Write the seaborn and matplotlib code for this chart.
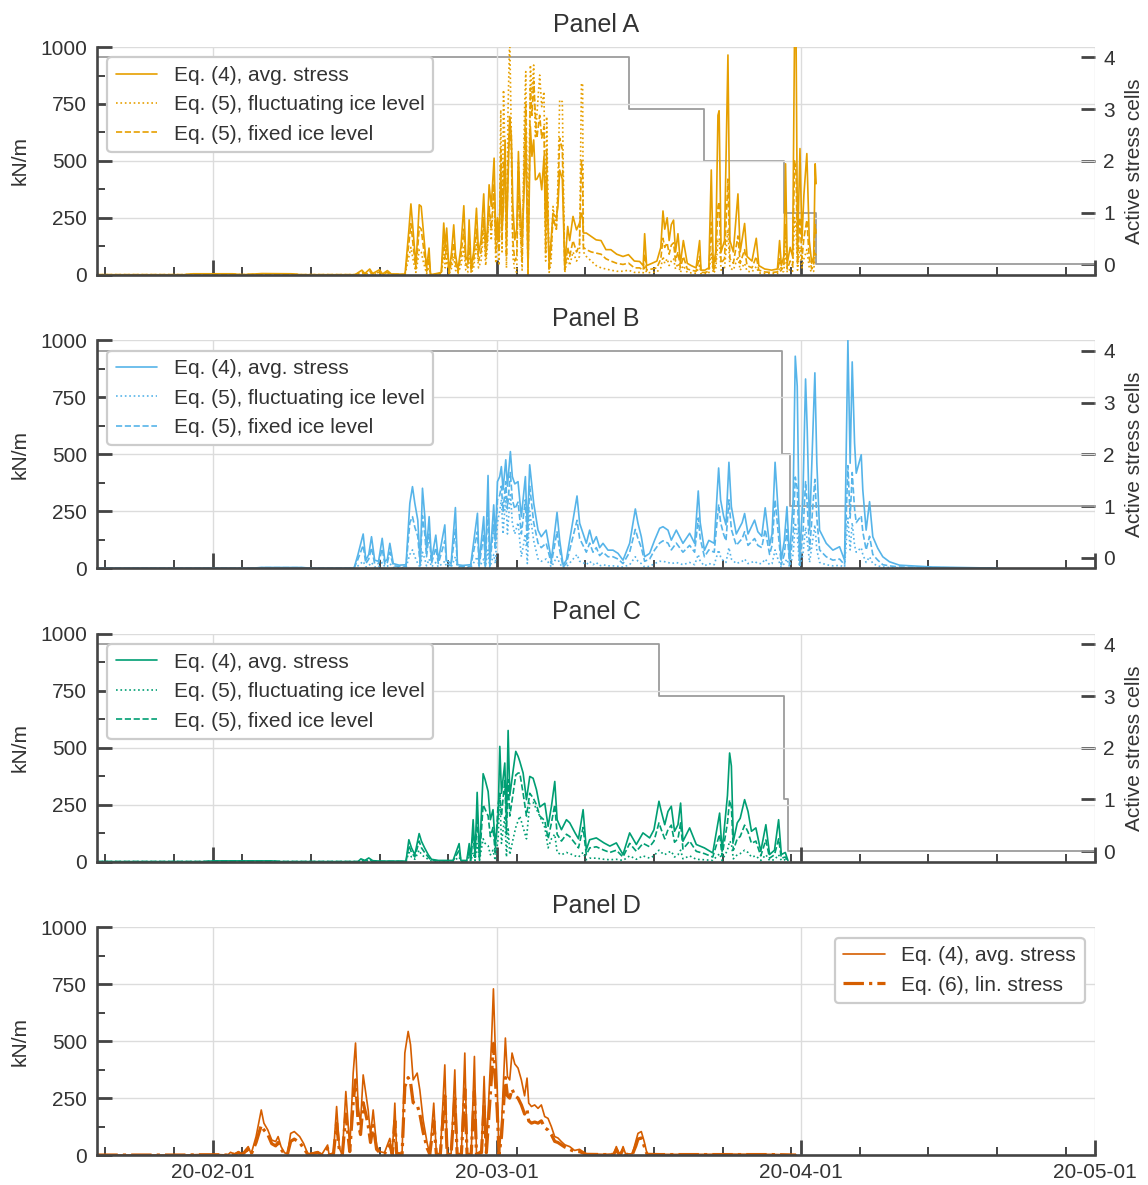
import numpy as np
import pandas as pd
import matplotlib
matplotlib.use("Agg")
import matplotlib.pyplot as plt
import matplotlib.dates as mdates
from matplotlib.ticker import MultipleLocator
import seaborn as sns

# ---------------- data (time in days since 2020-01-01) ----------------
# Panel A
t_A = [19.2, 28.0, 29.0, 33.0, 34.0, 36.0, 39.0, 40.0, 45.5, 46.2,
       46.5, 47.0, 47.3, 48.0, 48.3, 48.8, 49.2, 50.6, 51.0, 51.2,
       51.45, 51.7, 51.9, 52.05, 52.25, 52.45, 52.8, 53.05, 53.2, 53.8,
       54.3, 54.55, 54.7, 54.85, 55.1, 55.35, 55.57, 55.75, 56.0, 56.3,
       56.6, 56.8, 57.0, 57.14, 57.35, 57.6, 57.89, 58.1, 58.35, 58.63,
       58.83, 59.0, 59.18, 59.4, 59.69, 59.86, 60.03, 60.2, 60.37, 60.5,
       60.65, 60.81, 60.95, 61.1, 61.28, 61.45, 61.6, 61.8, 62.0, 62.17,
       62.3, 62.55, 62.78, 62.92, 63.15, 63.39, 63.55, 63.73, 63.9, 64.05,
       64.34, 64.55, 64.78, 64.95, 65.05, 65.3, 65.5, 65.7, 66.04, 66.2,
       66.38, 66.65, 66.9, 67.2, 67.4, 67.74, 68.1, 68.4, 68.6, 68.72,
       68.8, 69.1, 69.6, 70.1, 70.6, 71.1, 71.6, 72.2, 72.84, 73.4,
       74.0, 74.54, 74.9, 75.05, 75.25, 75.8, 76.3, 76.7, 76.92, 77.1,
       77.35, 77.55, 77.77, 78.0, 78.2, 78.45, 78.7, 79.0, 79.4, 79.8,
       80.3, 80.66, 80.8, 81.2, 81.6, 81.85, 82.05, 82.3, 82.53, 82.65,
       82.85, 83.2, 83.55, 83.75, 84.1, 84.57, 84.8, 85.25, 85.5, 86.0,
       86.44, 86.7, 87.3, 88.0, 88.6, 88.82, 89.0, 89.25, 89.43, 89.6,
       89.9, 90.15, 90.35, 90.5, 90.65, 90.9, 91.1, 91.3, 91.6, 91.85,
       92.1, 92.3, 92.45, 92.55]
avg_A = [0, 0, 4, 4, 0, 5, 4, 0, 0, 20,
         5, 25, 5, 22, 3, 18, 3, 2, 200, 311,
         180, 40, 180, 307, 300, 200, 30, 117, 0, 5,
         10, 227, 120, 205, 10, 100, 219, 90, 20, 120,
         303, 80, 60, 241, 30, 100, 292, 95, 150, 355,
         124, 200, 395, 300, 512, 153, 250, 150, 460, 200,
         300, 592, 150, 400, 680, 607, 300, 153, 200, 541,
         344, 150, 400, 621, 22, 651, 520, 592, 417, 420,
         446, 373, 519, 200, 430, 50, 150, 270, 250, 300,
         460, 420, 36, 212, 150, 256, 197, 226, 270, 250,
         183, 183, 168, 153, 150, 110, 110, 90, 80, 88,
         60, 58, 40, 180, 40, 50, 60, 120, 280, 200,
         250, 150, 220, 240, 100, 180, 50, 150, 50, 40,
         30, 150, 20, 20, 30, 460, 30, 100, 700, 720,
         100, 150, 965, 150, 100, 355, 100, 225, 80, 60,
         160, 40, 25, 20, 25, 150, 40, 80, 487, 50,
         120, 80, 1080, 1050, 100, 554, 150, 350, 532, 150,
         50, 80, 487, 400]
fluct_A = [0, 0, 1, 1, 0, 1, 1, 0, 0, 6,
           1, 8, 1, 6, 1, 5, 1, 0, 80, 120,
           60, 10, 60, 110, 100, 60, 5, 30, 0, 1,
           2, 90, 30, 70, 2, 30, 80, 20, 5, 40,
           120, 20, 10, 100, 5, 30, 140, 30, 60, 200,
           40, 120, 300, 150, 400, 50, 200, 40, 724, 100,
           811, 500, 30, 700, 1050, 600, 80, 20, 10, 500,
           250, 20, 700, 892, 0, 921, 800, 921, 600, 700,
           877, 738, 804, 60, 694, 10, 50, 300, 200, 400,
           768, 760, 10, 80, 40, 100, 60, 80, 840, 840,
           100, 80, 60, 40, 30, 25, 20, 15, 15, 20,
           10, 10, 8, 40, 8, 10, 12, 30, 80, 50,
           70, 40, 60, 70, 25, 50, 10, 40, 10, 8,
           6, 40, 4, 4, 6, 100, 6, 20, 150, 160,
           20, 30, 200, 30, 20, 80, 20, 50, 15, 12,
           35, 8, 5, 4, 5, 30, 8, 15, 100, 10,
           25, 15, 250, 200, 20, 120, 30, 70, 110, 30,
           10, 15, 100, 80]
fixed_A = [0, 0, 2, 2, 0, 3, 2, 0, 0, 12,
           3, 15, 3, 12, 2, 10, 2, 1, 140, 224,
           120, 25, 120, 210, 200, 130, 15, 70, 0, 3,
           5, 150, 70, 130, 5, 60, 140, 50, 10, 80,
           200, 50, 30, 160, 15, 60, 200, 60, 100, 250,
           80, 150, 300, 200, 400, 100, 200, 100, 550, 150,
           500, 500, 80, 500, 700, 550, 150, 60, 80, 450,
           250, 60, 550, 750, 5, 820, 700, 850, 700, 600,
           700, 600, 650, 100, 550, 20, 100, 250, 200, 350,
           600, 550, 20, 120, 80, 150, 100, 130, 500, 450,
           120, 110, 100, 95, 90, 70, 60, 50, 45, 51,
           30, 30, 20, 90, 20, 25, 30, 70, 160, 120,
           140, 90, 130, 140, 60, 100, 30, 80, 25, 20,
           15, 80, 10, 10, 15, 230, 15, 50, 300, 320,
           50, 70, 420, 70, 50, 170, 50, 110, 40, 30,
           80, 20, 12, 10, 12, 70, 20, 40, 220, 25,
           60, 40, 500, 450, 50, 250, 70, 160, 240, 70,
           25, 40, 220, 180]
step_t_A = [19.2, 73.45, 81.07, 89.26, 92.52, 121.0]
cells_A = [4, 3, 2, 1, 0, 0]

# Panel B
t_B = [19.2, 35.0, 36.0, 40.0, 41.0, 45.4, 45.8, 46.33, 46.6, 46.9,
       47.18, 47.5, 47.9, 48.27, 48.55, 48.8, 49.05, 49.4, 50.0, 50.7,
       51.09, 51.36, 51.6, 51.9, 52.15, 52.38, 52.62, 52.79, 53.06, 53.3,
       53.74, 54.0, 54.66, 54.83, 55.3, 55.74, 55.95, 56.5, 57.3, 57.99,
       58.16, 58.63, 58.8, 59.07, 59.25, 59.65, 59.82, 60.03, 60.26, 60.43,
       60.6, 60.88, 61.05, 61.35, 61.55, 61.8, 62.13, 62.47, 62.88, 63.08,
       63.32, 63.73, 64.17, 64.5, 65.0, 65.53, 66.11, 66.38, 66.73, 67.06,
       68.15, 68.42, 68.76, 69.1, 69.44, 69.78, 70.12, 70.46, 70.8, 71.31,
       71.82, 72.33, 72.84, 73.52, 74.1, 74.37, 74.71, 75.05, 75.56, 76.07,
       76.58, 76.92, 77.43, 77.77, 78.28, 78.96, 79.64, 80.15, 80.52, 80.72,
       81.15, 81.6, 82.15, 82.6, 82.8, 83.1, 83.35, 83.65, 83.9, 84.4,
       85.0, 85.25, 85.6, 86.27, 86.6, 87.0, 87.35, 87.8, 88.05, 88.36,
       88.65, 88.99, 89.3, 89.57, 89.84, 90.2, 90.42, 90.62, 90.86, 91.2,
       91.47, 91.64, 91.88, 92.42, 92.62, 92.9, 93.58, 94.26, 94.94, 95.45,
       95.79, 96.02, 96.23, 96.47, 96.64, 97.15, 97.31, 97.65, 98.0, 98.33,
       98.84, 99.35, 100.03, 101.05, 104.45, 111.0]
avg_B = [0, 0, 3, 3, 0, 0, 60, 150, 35, 60,
         138, 35, 30, 131, 28, 40, 109, 20, 13, 15,
         285, 358, 285, 211, 20, 351, 226, 79, 226, 35,
         145, 35, 190, 35, 20, 266, 15, 12, 15, 241,
         20, 226, 20, 407, 20, 278, 120, 380, 402, 446,
         344, 476, 360, 512, 402, 370, 380, 226, 402, 167,
         454, 285, 167, 138, 167, 35, 245, 123, 13, 35,
         317, 197, 153, 109, 167, 109, 138, 90, 109, 79,
         79, 65, 35, 109, 260, 197, 138, 50, 65, 123,
         175, 182, 167, 123, 167, 109, 153, 109, 339, 200,
         78, 122, 109, 440, 300, 230, 190, 465, 270, 150,
         200, 240, 150, 211, 160, 140, 265, 100, 150, 465,
         270, 35, 120, 270, 35, 300, 931, 799, 35, 314,
         831, 608, 167, 858, 461, 167, 109, 79, 94, 35,
         1000, 461, 906, 549, 417, 498, 344, 167, 292, 138,
         87, 50, 28, 13, 5, 0]
fluct_B = [0, 0, 1, 1, 0, 0, 10, 30, 5, 10,
           25, 5, 5, 25, 5, 8, 20, 3, 2, 3,
           60, 80, 50, 20, 3, 70, 40, 10, 40, 5,
           25, 5, 30, 5, 3, 50, 3, 2, 3, 50,
           3, 40, 3, 80, 3, 60, 20, 200, 250, 300,
           150, 320, 150, 330, 200, 150, 200, 50, 150, 20,
           250, 120, 40, 30, 40, 5, 50, 20, 2, 5,
           60, 30, 25, 15, 30, 15, 25, 10, 15, 10,
           10, 8, 5, 15, 50, 30, 20, 5, 8, 20,
           30, 30, 25, 20, 25, 15, 25, 15, 60, 30,
           10, 20, 15, 80, 50, 30, 25, 90, 40, 20,
           30, 40, 20, 30, 20, 20, 40, 15, 20, 80,
           40, 5, 20, 40, 5, 60, 200, 150, 5, 60,
           180, 120, 25, 190, 80, 25, 15, 10, 12, 5,
           220, 80, 200, 100, 70, 90, 60, 25, 50, 20,
           10, 5, 3, 2, 0, 0]
fixed_B = [0, 0, 2, 2, 0, 0, 40, 100, 20, 40,
           90, 20, 20, 85, 15, 25, 70, 10, 8, 8,
           200, 226, 180, 140, 10, 230, 150, 50, 150, 20,
           90, 20, 120, 20, 10, 170, 8, 6, 8, 160,
           10, 150, 10, 280, 10, 190, 80, 300, 320, 360,
           250, 380, 260, 420, 300, 260, 290, 150, 300, 100,
           360, 200, 110, 90, 110, 20, 160, 80, 6, 20,
           210, 130, 100, 70, 110, 70, 90, 55, 70, 50,
           50, 40, 20, 70, 170, 130, 90, 30, 40, 80,
           110, 120, 110, 80, 110, 70, 100, 70, 220, 130,
           50, 80, 70, 280, 200, 150, 120, 300, 170, 100,
           130, 160, 100, 130, 100, 90, 170, 60, 100, 300,
           170, 15, 60, 170, 15, 150, 400, 350, 15, 150,
           380, 280, 80, 390, 220, 80, 50, 35, 40, 15,
           450, 220, 420, 260, 200, 230, 160, 80, 140, 60,
           35, 15, 10, 5, 2, 0]
step_t_B = [19.2, 89.06, 89.84, 121.0]
cells_B = [4, 2, 1, 1]

# Panel C
t_C = [19.2, 30.0, 31.0, 37.0, 38.0, 45.8, 46.1, 46.5, 46.9, 47.3,
       48.0, 50.7, 50.99, 51.26, 51.6, 52.04, 52.28, 52.6, 52.96, 53.3,
       54.0, 55.5, 56.12, 56.3, 56.9, 57.15, 57.3, 57.55, 57.75, 57.96,
       58.2, 58.57, 58.77, 59.08, 59.31, 59.58, 59.8, 60.1, 60.27, 60.44,
       60.78, 60.95, 61.12, 61.29, 61.63, 61.9, 62.14, 62.31, 62.65, 62.99,
       63.33, 63.67, 64.01, 64.35, 64.86, 65.2, 65.54, 65.88, 66.12, 66.56,
       67.07, 67.41, 67.95, 68.3, 68.77, 69.1, 69.44, 70.12, 70.9, 71.5,
       72.16, 72.84, 73.52, 74.2, 74.88, 75.56, 76.0, 76.51, 76.75, 77.1,
       77.43, 77.77, 78.1, 78.45, 78.72, 78.96, 79.64, 80.32, 81.15, 82.0,
       82.7, 82.95, 83.5, 83.72, 83.9, 84.1, 84.5, 84.8, 85.25, 85.6,
       85.95, 86.4, 86.9, 87.42, 87.8, 88.3, 88.72, 89.0, 89.4, 89.67]
avg_C = [0, 0, 3, 3, 0, 0, 12, 5, 16, 4,
         2, 2, 96, 60, 30, 123, 89, 60, 31, 10,
         5, 5, 79, 5, 5, 79, 10, 184, 20, 304,
         20, 386, 360, 308, 184, 228, 70, 200, 506, 300,
         433, 180, 576, 290, 400, 484, 462, 440, 389, 272,
         374, 366, 316, 240, 256, 155, 243, 352, 184, 140,
         184, 170, 126, 100, 228, 52, 96, 104, 82, 68,
         82, 31, 126, 75, 126, 104, 140, 265, 220, 162,
         220, 243, 133, 162, 257, 89, 148, 75, 60, 38,
         213, 45, 290, 477, 420, 89, 170, 190, 272, 220,
         133, 148, 45, 162, 31, 50, 184, 31, 40, 5]
fluct_C = [0, 0, 1, 1, 0, 0, 3, 1, 4, 1,
           0, 0, 40, 20, 10, 50, 30, 20, 10, 3,
           1, 1, 20, 1, 1, 20, 2, 40, 5, 80,
           5, 100, 80, 70, 30, 50, 5, 100, 300, 80,
           200, 20, 150, 30, 100, 150, 180, 200, 150, 100,
           257, 260, 230, 200, 150, 60, 100, 120, 40, 30,
           40, 35, 25, 20, 40, 8, 15, 15, 10, 8,
           10, 5, 25, 10, 25, 15, 25, 50, 40, 30,
           40, 45, 20, 30, 50, 12, 25, 10, 8, 5,
           35, 5, 50, 90, 80, 12, 30, 35, 50, 40,
           20, 25, 5, 30, 5, 8, 30, 5, 8, 1]
fixed_C = [0, 0, 2, 2, 0, 0, 8, 3, 10, 2,
           1, 1, 70, 40, 20, 90, 60, 40, 20, 5,
           3, 3, 50, 3, 3, 50, 5, 120, 10, 200,
           10, 250, 230, 200, 110, 150, 40, 250, 300, 200,
           360, 120, 360, 200, 300, 380, 389, 389, 300, 200,
           300, 280, 250, 200, 180, 100, 170, 250, 120, 90,
           120, 110, 80, 60, 150, 30, 60, 65, 50, 40,
           50, 20, 80, 45, 80, 65, 90, 170, 140, 100,
           140, 160, 85, 100, 170, 55, 90, 45, 35, 20,
           120, 25, 170, 270, 240, 50, 100, 110, 160, 130,
           80, 90, 25, 95, 15, 30, 100, 15, 20, 2]
step_t_C = [19.2, 76.51, 89.23, 89.67, 121.0]
cells_C = [4, 3, 1, 0, 0]

# Panel D
t_D = [19.2, 28.0, 29.5, 31.5, 32.5, 32.8, 33.2, 33.6, 34.0, 34.3,
       34.6, 34.9, 35.4, 35.93, 36.2, 36.6, 37.0, 37.4, 37.65, 37.95,
       38.3, 38.6, 38.93, 39.3, 39.85, 40.25, 40.7, 41.7, 42.1, 42.7,
       42.85, 43.3, 43.62, 43.9, 44.2, 44.56, 44.96, 45.31, 45.55, 45.82,
       46.06, 46.33, 46.6, 46.84, 47.08, 47.35, 47.7, 48.03, 48.5, 49.05,
       49.3, 49.56, 49.75, 50.3, 50.58, 50.92, 51.16, 51.43, 51.84, 52.11,
       52.45, 52.86, 53.13, 53.53, 53.8, 54.2, 54.66, 54.9, 55.3, 55.68,
       55.92, 56.35, 56.7, 56.93, 57.35, 57.68, 57.89, 58.4, 58.67, 58.9,
       59.25, 59.42, 59.62, 59.79, 60.0, 60.2, 60.44, 60.67, 60.84, 61.05,
       61.28, 61.52, 61.8, 62.13, 62.47, 62.8, 63.05, 63.22, 63.5, 63.83,
       64.17, 64.51, 64.85, 65.19, 65.53, 65.87, 66.2, 66.55, 66.9, 67.4,
       67.9, 68.4, 69.1, 71.0, 71.9, 72.16, 72.4, 72.6, 72.85, 73.1,
       73.8, 74.15, 74.37, 74.71, 75.0, 75.3, 76.6, 80.0, 84.0, 88.0,
       90.5]
avg_D = [0, 0, 2, 2, 0, 12, 3, 15, 3, 22,
         37, 5, 81, 198, 140, 110, 66, 59, 81, 37,
         10, 5, 95, 103, 81, 51, 3, 15, 2, 44,
         0, 10, 213, 30, 0, 279, 30, 360, 492, 213,
         140, 352, 272, 198, 88, 198, 40, 15, 10, 73,
         3, 228, 10, 7, 448, 543, 485, 330, 360, 286,
         154, 51, 5, 228, 5, 5, 396, 5, 5, 374,
         5, 5, 448, 5, 5, 433, 5, 20, 345, 20,
         345, 492, 730, 492, 300, 5, 125, 352, 514, 345,
         330, 448, 400, 382, 330, 260, 338, 228, 213, 220,
         205, 220, 169, 161, 125, 81, 75, 59, 45, 37,
         20, 25, 5, 3, 5, 37, 10, 5, 37, 5,
         5, 60, 95, 103, 60, 5, 3, 3, 4, 3,
         0]
lin_D = [0, 0, 1, 1, 0, 8, 2, 10, 2, 15,
         25, 3, 55, 130, 110, 90, 50, 40, 55, 25,
         5, 3, 60, 70, 55, 30, 2, 10, 1, 30,
         0, 5, 140, 20, 0, 180, 15, 230, 330, 140,
         90, 230, 180, 130, 55, 130, 25, 10, 5, 45,
         2, 150, 5, 4, 300, 340, 320, 230, 220, 180,
         100, 30, 3, 150, 3, 3, 260, 3, 3, 250,
         3, 3, 290, 3, 3, 280, 3, 10, 220, 10,
         230, 340, 490, 350, 200, 3, 80, 230, 340, 260,
         250, 290, 260, 250, 220, 180, 200, 150, 140, 145,
         140, 150, 120, 110, 90, 60, 55, 45, 35, 25,
         15, 15, 3, 2, 3, 25, 5, 3, 25, 3,
         3, 40, 70, 75, 40, 3, 2, 2, 2, 2,
         0]

labels_ABC = ["Eq. (4), avg. stress", "Eq. (5), fluctuating ice level",
              "Eq. (5), fixed ice level"]
labels_D = ["Eq. (4), avg. stress", "Eq. (6), lin. stress"]
titles = ["Panel A", "Panel B", "Panel C", "Panel D"]
colors = ["#E69F00", "#56B4E9", "#009E73", "#D55E00"]

# ---------------- styling ----------------
BASE = pd.Timestamp("2020-01-01")


def to_dates(days):
    return BASE + pd.to_timedelta(np.asarray(days, dtype=float), unit="D")


sns.set_theme(style="ticks")
plt.rcParams["font.family"] = ["Liberation Sans", "DejaVu Sans"]
TXT = "#333333"
SPINE = "#444444"
GRID = "#dcdcdc"
plt.rcParams.update({
    "text.color": TXT, "axes.labelcolor": TXT,
    "xtick.color": SPINE, "ytick.color": SPINE,
    "xtick.labelcolor": TXT, "ytick.labelcolor": TXT,
    "font.size": 15, "axes.titlesize": 18, "axes.labelsize": 15,
    "xtick.labelsize": 15, "ytick.labelsize": 15, "legend.fontsize": 15,
})

fig, axes = plt.subplots(4, 1, figsize=(11.48, 11.85), dpi=100, sharex=True)
fig.subplots_adjust(left=0.0845, right=0.9538, top=0.9603, bottom=0.0253,
                    hspace=0.289)


def style_main(ax, title):
    ax.set_ylim(0, 1000)
    ax.yaxis.set_major_locator(MultipleLocator(250))
    ax.yaxis.set_minor_locator(MultipleLocator(125))
    ax.grid(True, which="major", color=GRID, lw=1.0)
    ax.grid(False, which="minor")
    for s in ["top", "right"]:
        ax.spines[s].set_visible(False)
    for s in ["left", "bottom"]:
        ax.spines[s].set_linewidth(1.9)
        ax.spines[s].set_color(SPINE)
    ax.tick_params(which="major", direction="in", length=11, width=2.0,
                   color=SPINE)
    ax.tick_params(axis="y", which="major", pad=7)
    ax.tick_params(axis="x", which="major", pad=6)
    ax.tick_params(which="minor", direction="in", length=5.5, width=1.4,
                   color=SPINE)
    ax.set_ylabel("kN/m", labelpad=8)
    ax.set_xlabel("")
    ax.set_title(title, pad=10.5)


panel_data = [
    (t_A, avg_A, fluct_A, fixed_A, step_t_A, cells_A),
    (t_B, avg_B, fluct_B, fixed_B, step_t_B, cells_B),
    (t_C, avg_C, fluct_C, fixed_C, step_t_C, cells_C),
]

for i, (tt, s_avg, s_fl, s_fx, st, sc) in enumerate(panel_data):
    ax = axes[i]
    c = colors[i]
    x = to_dates(tt)
    sns.lineplot(x=x, y=s_avg, ax=ax, color=c, lw=1.2, linestyle="-",
                 estimator=None, errorbar=None, sort=False, label=labels_ABC[0])
    sns.lineplot(x=x, y=s_fl, ax=ax, color=c, lw=1.2, linestyle=":",
                 estimator=None, errorbar=None, sort=False, label=labels_ABC[1])
    sns.lineplot(x=x, y=s_fx, ax=ax, color=c, lw=1.2, linestyle="--",
                 estimator=None, errorbar=None, sort=False, label=labels_ABC[2])
    style_main(ax, titles[i])

    ax2 = ax.twinx()
    sns.lineplot(x=to_dates(st), y=sc, ax=ax2, color="#9c9c9c", lw=1.3,
                 drawstyle="steps-post", estimator=None, errorbar=None,
                 sort=False, legend=False)
    ax2.set_ylim(-0.2, 4.2)
    ax2.set_yticks([0, 1, 2, 3, 4])
    ax2.grid(False)
    for s in ax2.spines.values():
        s.set_visible(False)
    ax2.tick_params(axis="y", direction="in", length=10, width=2.0,
                    color=SPINE, pad=6, labelsize=15)
    ax2.set_ylabel("Active stress cells", labelpad=7)
    ax.set_zorder(ax2.get_zorder() + 1)
    ax.patch.set_visible(False)

    leg = ax.legend(loc="upper left", frameon=True, fancybox=True,
                    framealpha=1.0, edgecolor="#cccccc")
    leg.get_frame().set_linewidth(1.6)

# Panel D
axD = axes[3]
xD = to_dates(t_D)
sns.lineplot(x=xD, y=avg_D, ax=axD, color=colors[3], lw=1.2, linestyle="-",
             estimator=None, errorbar=None, sort=False, label=labels_D[0])
sns.lineplot(x=xD, y=lin_D, ax=axD, color=colors[3], lw=2.3, linestyle="-.",
             estimator=None, errorbar=None, sort=False, label=labels_D[1])
style_main(axD, titles[3])
legD = axD.legend(loc="upper right", frameon=True, fancybox=True,
                  framealpha=1.0, edgecolor="#cccccc")
legD.get_frame().set_linewidth(1.6)

axD.xaxis.set_major_locator(mdates.MonthLocator())
axD.xaxis.set_major_formatter(mdates.DateFormatter("%y-%m-%d"))
axD.xaxis.set_minor_locator(mdates.WeekdayLocator(byweekday=mdates.TU))
axD.set_xlim(BASE + pd.Timedelta(days=19.17), pd.Timestamp("2020-05-01"))
for ax in axes:
    ax.set_xlabel("")

fig.savefig("out.png", dpi=100)
